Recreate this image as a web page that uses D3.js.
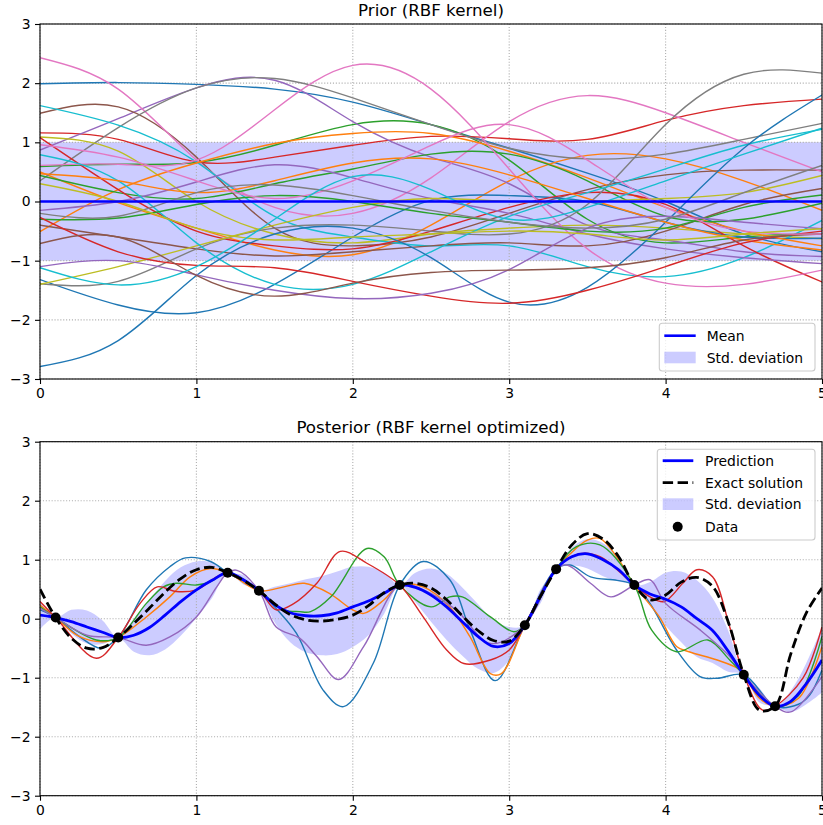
<!DOCTYPE html>
<html><head><meta charset="utf-8">
<script src="https://cdn.jsdelivr.net/npm/d3@7"></script>
<style>
body{margin:0;background:#fff}
svg{display:block}
text{font-family:"DejaVu Sans",sans-serif;fill:#000}
</style>
</head><body>
<svg id="c" width="823" height="825"></svg>
<script>
// ---------- ticks ----------
const xTicks = [0, 1, 2, 3, 4, 5];
const yTicks = [-3, -2, -1, 0, 1, 2, 3];
const titles = ["Prior (RBF kernel)", "Posterior (RBF kernel optimized)"];
const sampleColors = ["#1f77b4","#ff7f0e","#2ca02c","#d62728","#9467bd","#8c564b","#e377c2","#7f7f7f","#bcbd22","#17becf"];

// ---------- prior ----------
const priorX = [0, 0.5, 1, 1.5, 2, 2.5, 3, 3.5, 4, 4.5, 5];
const priorMean = [0, 0, 0, 0, 0, 0, 0, 0, 0, 0, 0];
const priorStd = [1, 1, 1, 1, 1, 1, 1, 1, 1, 1, 1];
// 30 prior samples, colour order follows the tab10 cycle
const priorSamples = [
  [1.99, 2.01, 1.98, 1.90, 1.68, 1.30, 0.90, 0.48, 0.00, -0.55, -0.85],
  [0.50, -0.02, -0.45, -0.82, -0.90, -0.40, 0.35, 0.78, 0.72, 0.35, -0.15],
  [0.59, 0.63, 0.66, 0.95, 1.30, 1.30, 0.70, -0.30, -0.70, -0.60, -0.55],
  [1.16, 1.05, 0.67, 0.75, 0.95, 1.10, 1.06, 1.05, 1.37, 1.62, 1.73],
  [0.87, 1.40, 1.92, 2.05, 1.35, 0.75, 0.30, -0.40, -0.65, -0.85, -0.93],
  [1.49, 1.60, 0.75, -0.45, -0.75, -0.60, -0.20, 0.20, 0.45, 0.53, 0.53],
  [2.43, 1.90, 0.70, -0.10, -0.20, 0.40, 1.35, 1.79, 1.50, 1.00, 0.50],
  [0.35, 1.25, 1.92, 2.08, 1.75, 1.30, 0.90, 0.72, 0.80, 1.05, 1.32],
  [1.09, 0.85, 0.00, -0.55, -0.70, -0.55, -0.45, -0.40, -0.45, -0.55, -0.63],
  [1.62, 1.29, 0.67, -0.25, -0.60, -0.75, -0.75, -1.10, -1.27, -0.95, -0.32],
  [-1.32, -1.75, -1.88, -1.40, -0.60, 0.02, 0.10, 0.00, -0.35, -0.60, -0.62],
  [-0.51, 0.20, 0.65, 0.98, 1.15, 1.15, 0.85, 0.40, -0.10, -0.50, -0.75],
  [0.44, 0.15, 0.05, 0.30, 0.55, 0.80, 0.80, 0.35, -0.25, -0.30, -0.03],
  [1.08, 0.20, -0.50, -0.75, -0.80, -0.50, -0.10, 0.15, -0.05, -0.75, -1.36],
  [-0.15, 0.00, 0.33, 0.62, 0.40, 0.05, -0.20, -0.55, -0.80, -0.95, -1.05],
  [-0.40, -0.60, -0.80, -0.92, -0.85, -0.75, -0.70, -0.75, -0.50, -0.05, 0.22],
  [0.61, 0.63, 0.70, 1.55, 2.30, 1.90, 0.55, -0.80, -1.38, -1.40, -1.16],
  [-1.39, -1.35, -0.80, -0.45, -0.40, -0.50, -0.55, -0.05, 1.30, 2.15, 2.17],
  [-1.40, -1.10, -0.75, -0.40, -0.10, 0.05, 0.00, 0.00, 0.05, 0.15, 0.44],
  [0.79, 0.35, -0.70, -1.40, -1.40, -0.85, -0.25, 0.15, 0.55, 0.95, 1.22],
  [-2.79, -2.35, -1.25, -0.55, -0.45, -0.95, -1.70, -1.45, -0.35, 0.90, 1.80],
  [0.47, 0.35, 0.15, 0.35, 0.65, 0.72, 0.45, 0.05, -0.35, -0.65, -0.82],
  [-0.30, -0.28, -0.05, 0.10, 0.00, -0.20, -0.35, -0.50, -0.45, -0.10, 0.11],
  [-0.27, -0.85, -1.08, -1.12, -1.35, -1.60, -1.72, -1.50, -1.10, -0.70, -0.50],
  [-1.10, -1.00, -1.24, -1.50, -1.64, -1.55, -1.15, -0.45, -0.25, -0.35, -0.46],
  [-0.71, -0.60, -1.25, -1.60, -1.38, -1.20, -1.16, -1.12, -0.95, -0.65, -0.55],
  [0.96, 0.75, 0.35, 0.05, 0.35, 0.95, 1.30, 0.70, -0.10, -0.50, -0.55],
  [-0.20, -0.25, 0.15, 0.28, 0.10, -0.15, -0.35, -0.45, -0.30, 0.15, 0.61],
  [0.30, 0.00, -0.45, -0.65, -0.60, -0.55, -0.50, -0.55, -0.65, -0.55, -0.46],
  [-1.12, -1.41, -1.10, -0.30, 0.42, 0.20, -0.30, -0.10, 0.35, 0.80, 1.24]
];

// ---------- posterior ----------
const postX = [0,0.1,0.2,0.3,0.4,0.5,0.6,0.7,0.8,0.9,1.0,1.1,1.2,1.3,1.4,1.5,1.6,1.7,1.8,1.9,2.0,
  2.1,2.2,2.3,2.4,2.5,2.6,2.7,2.8,2.9,3.0,3.1,3.2,3.3,3.4,3.5,3.6,3.7,3.8,3.9,4.0,
  4.1,4.2,4.3,4.4,4.5,4.6,4.7,4.8,4.9,5.0];
const predY = [0.06,0.02,-0.05,-0.14,-0.23,-0.32,-0.28,-0.15,0.06,0.29,0.49,
  0.65,0.78,0.66,0.475,0.24,0.10,0.05,0.05,0.10,0.20,
  0.30,0.43,0.57,0.53,0.40,0.20,-0.05,-0.30,-0.47,-0.42,
  -0.11,0.38,0.84,1.05,1.10,1.00,0.83,0.57,0.42,0.33,
  0.20,0.00,-0.20,-0.55,-0.95,-1.30,-1.485,-1.40,-1.10,-0.70];
const predStd = [0.24,0,0.20,0.28,0.20,0,0.28,0.47,0.58,0.58,0.48,
  0.30,0,0.08,0,0.30,0.50,0.62,0.67,0.70,0.68,
  0.58,0.35,0,0.25,0.45,0.56,0.58,0.55,0.45,0.28,
  0,0.12,0,0.15,0.25,0.28,0.20,0,0.20,0.45,
  0.60,0.65,0.55,0.35,0,0.12,0,0.18,0.35,0.55];
const exactY = [0.50,0.02,-0.33,-0.50,-0.49,-0.32,-0.08,0.18,0.45,0.68,0.83,
  0.87,0.78,0.65,0.475,0.25,0.07,-0.02,-0.04,-0.01,0.06,
  0.22,0.44,0.57,0.60,0.52,0.32,0.05,-0.20,-0.37,-0.38,
  -0.11,0.38,0.84,1.25,1.44,1.35,1.05,0.57,0.32,0.40,
  0.62,0.70,0.55,-0.05,-0.95,-1.55,-1.485,-0.60,0.10,0.52];
const dataX = [0.1, 0.5, 1.2, 1.4, 2.3, 3.1, 3.3, 3.8, 4.5, 4.7];
const dataY = [0.02, -0.32, 0.78, 0.475, 0.57, -0.11, 0.84, 0.57, -0.95, -1.485];

const postSamples = [
  [[0,0.15],[0.1,0.02],[0.25,-0.3],[0.39,-0.5],[0.5,-0.32],[0.68,0.49],[0.83,0.88],[0.93,1.03],[1.09,0.97],[1.2,0.78],[1.4,0.475],[1.5,0.2],[1.64,-0.25],[1.81,-1.21],[1.94,-1.49],[2.13,-0.76],[2.3,0.57],[2.45,0.97],[2.62,0.66],[2.75,-0.19],[2.91,-1.05],[3.1,-0.11],[3.3,0.84],[3.39,0.91],[3.52,0.71],[3.69,0.65],[3.8,0.57],[3.9,0.26],[4.07,-0.53],[4.22,-0.98],[4.33,-1.01],[4.5,-0.95],[4.7,-1.485],[4.85,-1.45],[4.92,-1.3],[5.0,-0.87]],
  [[0,0.23],[0.1,0.02],[0.25,-0.3],[0.4,-0.39],[0.5,-0.32],[0.68,0.03],[0.83,0.37],[0.96,0.71],[1.09,0.85],[1.2,0.78],[1.4,0.475],[1.56,0.54],[1.69,0.6],[1.85,0.43],[2.0,0.15],[2.07,0.09],[2.2,0.32],[2.3,0.57],[2.45,0.54],[2.62,0.2],[2.75,-0.31],[2.88,-0.93],[2.95,-0.93],[3.1,-0.11],[3.3,0.84],[3.39,1.1],[3.5,1.33],[3.58,1.36],[3.7,1.0],[3.8,0.57],[3.96,0.03],[4.07,-0.47],[4.15,-0.56],[4.33,-0.7],[4.46,-0.84],[4.5,-0.95],[4.6,-1.35],[4.7,-1.485],[4.85,-1.35],[5.0,-0.47]],
  [[0,0.2],[0.1,0.02],[0.36,-0.36],[0.5,-0.32],[0.68,0.26],[0.79,0.54],[0.87,0.6],[1.0,0.57],[1.09,0.63],[1.2,0.78],[1.4,0.475],[1.56,0.15],[1.66,0.12],[1.73,0.12],[1.86,0.37],[2.09,1.19],[2.2,1.05],[2.3,0.57],[2.5,0.2],[2.62,0.37],[2.7,0.37],[2.88,0.03],[3.03,-0.22],[3.1,-0.11],[3.3,0.84],[3.43,1.22],[3.58,1.25],[3.8,0.57],[3.91,-0.19],[4.07,-0.56],[4.27,-0.36],[4.41,-0.7],[4.5,-0.95],[4.7,-1.485],[4.85,-1.3],[5.0,-0.3]],
  [[0,0.29],[0.1,0.02],[0.36,-0.67],[0.5,-0.32],[0.64,0.26],[0.75,0.54],[0.87,0.46],[1.0,0.49],[1.13,0.71],[1.2,0.78],[1.4,0.475],[1.51,0.15],[1.62,0.25],[1.77,0.6],[1.92,1.14],[2.09,0.94],[2.3,0.57],[2.45,0.03],[2.6,-0.53],[2.71,-0.76],[2.88,-0.7],[3.0,-0.53],[3.1,-0.11],[3.3,0.84],[3.45,1.1],[3.58,1.05],[3.8,0.57],[3.9,0.37],[3.99,0.29],[4.11,0.6],[4.2,0.83],[4.3,0.71],[4.41,-0.14],[4.5,-0.95],[4.62,-1.55],[4.7,-1.485],[4.88,-1.0],[5.0,-0.14]],
  [[0,0.18],[0.1,0.02],[0.3,-0.28],[0.5,-0.32],[0.68,-0.45],[0.83,-0.31],[1.0,0.03],[1.13,0.54],[1.2,0.78],[1.26,0.82],[1.4,0.475],[1.51,-0.14],[1.66,-0.33],[1.77,-0.64],[1.91,-1.03],[2.07,-0.47],[2.3,0.57],[2.45,0.49],[2.66,0.15],[2.88,-0.42],[3.1,-0.11],[3.3,0.84],[3.37,0.91],[3.52,0.6],[3.65,0.37],[3.8,0.57],[3.9,0.66],[4.0,0.26],[4.22,-0.19],[4.41,-0.64],[4.5,-0.95],[4.7,-1.485],[4.8,-1.58],[5.0,-0.98]]
];

// ---------- drawing ----------
const svg = d3.select("#c");
const FS = 13.9;
const x = d3.scaleLinear().domain([0, 5]).range([40, 822]);

function panel(id, yTop, yBot, title) {
  const y = d3.scaleLinear().domain([-3, 3]).range([yBot, yTop]);
  const g = svg.append("g");
  g.append("clipPath").attr("id", id).append("rect")
    .attr("x", x(0)).attr("y", yTop).attr("width", x(5) - x(0)).attr("height", yBot - yTop);
  const layers = {
    band: g.append("g").attr("clip-path", `url(#${id})`),
    grid: g.append("g"),
    lines: g.append("g").attr("clip-path", `url(#${id})`),
    top: g.append("g"),
    axes: g.append("g"),
    legend: g.append("g")
  };
  layers.grid.selectAll("line.gx").data(xTicks).join("line").attr("class", "gx")
    .attr("x1", d => x(d)).attr("x2", d => x(d)).attr("y1", yTop).attr("y2", yBot);
  layers.grid.selectAll("line.gy").data(yTicks).join("line").attr("class", "gy")
    .attr("x1", x(0)).attr("x2", x(5)).attr("y1", d => y(d)).attr("y2", d => y(d));
  layers.grid.selectAll("line").attr("stroke", "#b0b0b0").attr("stroke-width", 1.1)
    .attr("stroke-dasharray", "1.1,1.8");
  const ax = layers.axes.append("g").attr("transform", `translate(0,${yBot})`)
    .call(d3.axisBottom(x).tickValues(xTicks).tickFormat(d3.format("d")).tickSize(5).tickPadding(4.5));
  const ay = layers.axes.append("g").attr("transform", `translate(${x(0)},0)`)
    .call(d3.axisLeft(y).tickValues(yTicks).tickFormat(d3.format("d")).tickSize(5).tickPadding(4.5));
  [ax, ay].forEach(a => {
    a.select(".domain").remove();
    a.attr("font-family", "DejaVu Sans").attr("font-size", FS);
    a.selectAll(".tick line").attr("stroke", "#000").attr("stroke-width", 1.1);
  });
  layers.axes.append("rect").attr("x", x(0)).attr("y", yTop).attr("width", x(5) - x(0))
    .attr("height", yBot - yTop).attr("fill", "none").attr("stroke", "#000").attr("stroke-width", 1.1);
  layers.axes.append("text").attr("x", (x(0) + x(5)) / 2).attr("y", yTop - 8.5)
    .attr("text-anchor", "middle").attr("font-size", 16.7).text(title);
  return { y, layers };
}

function legendBox(g, bx, by, bw, bh) {
  g.append("rect").attr("x", bx).attr("y", by).attr("width", bw).attr("height", bh)
    .attr("rx", 3).attr("fill", "#fff").attr("fill-opacity", 0.8)
    .attr("stroke", "#cccccc").attr("stroke-width", 1.1);
}
function legendText(g, tx, ty, s) {
  g.append("text").attr("x", tx).attr("y", ty).attr("dy", "0.36em").attr("font-size", FS).text(s);
}

// ---- top: prior ----
{
  const { y, layers } = panel("clipTop", 24, 379, titles[0]);
  const idx = d3.range(priorX.length);
  layers.band.append("path").datum(idx)
    .attr("d", d3.area().x(i => x(priorX[i])).y0(i => y(priorMean[i] - priorStd[i])).y1(i => y(priorMean[i] + priorStd[i])))
    .attr("fill", "blue").attr("fill-opacity", 0.2);
  const line = d3.line().x((d, i) => x(priorX[i])).y(d => y(d)).curve(d3.curveNatural);
  layers.lines.selectAll("path.s").data(priorSamples).join("path").attr("class", "s")
    .attr("d", line).attr("fill", "none").attr("stroke", (d, i) => sampleColors[i % 10])
    .attr("stroke-width", 1.4).attr("stroke-linejoin", "round");
  layers.lines.append("path").datum(priorMean).attr("d", line)
    .attr("fill", "none").attr("stroke", "#0000ff").attr("stroke-width", 2.6);
  const lg = layers.legend;
  legendBox(lg, 659.3, 323.3, 155.7, 47.7);
  lg.append("line").attr("x1", 664.3).attr("x2", 695.7).attr("y1", 335.7).attr("y2", 335.7)
    .attr("stroke", "#0000ff").attr("stroke-width", 2.6);
  legendText(lg, 706.7, 335.7, "Mean");
  lg.append("rect").attr("x", 664.3).attr("y", 351.7).attr("width", 31.4).attr("height", 11.6)
    .attr("fill", "blue").attr("fill-opacity", 0.2);
  legendText(lg, 706.7, 357.5, "Std. deviation");
}

// ---- bottom: posterior ----
{
  const { y, layers } = panel("clipBot", 441.7, 795.7, titles[1]);
  const idx = d3.range(postX.length);
  const cr = d3.curveCatmullRom.alpha(0.5);
  layers.band.append("path").datum(idx)
    .attr("d", d3.area().x(i => x(postX[i])).y0(i => y(predY[i] - predStd[i])).y1(i => y(predY[i] + predStd[i])).curve(cr))
    .attr("fill", "blue").attr("fill-opacity", 0.2);
  const pl = d3.line().x(d => x(d[0])).y(d => y(d[1])).curve(cr);
  layers.lines.selectAll("path.s").data(postSamples).join("path").attr("class", "s")
    .attr("d", pl).attr("fill", "none").attr("stroke", (d, i) => sampleColors[i % 10])
    .attr("stroke-width", 1.4).attr("stroke-linejoin", "round");
  const gl = d3.line().x(i => x(postX[i])).curve(cr);
  layers.lines.append("path").datum(idx).attr("d", gl.y(i => y(predY[i])))
    .attr("fill", "none").attr("stroke", "#0000ff").attr("stroke-width", 2.8);
  layers.lines.append("path").datum(idx).attr("d", gl.y(i => y(exactY[i])))
    .attr("fill", "none").attr("stroke", "#000").attr("stroke-width", 2.8).attr("stroke-dasharray", "10.4,4.5");
  layers.top.selectAll("circle").data(dataX).join("circle")
    .attr("cx", d => x(d)).attr("cy", (d, i) => y(dataY[i])).attr("r", 5).attr("fill", "#000");
  const lg = layers.legend;
  legendBox(lg, 657.3, 449.3, 157.7, 90.7);
  lg.append("line").attr("x1", 662.7).attr("x2", 693.3).attr("y1", 460.7).attr("y2", 460.7)
    .attr("stroke", "#0000ff").attr("stroke-width", 2.8);
  legendText(lg, 705, 460.7, "Prediction");
  lg.append("line").attr("x1", 662.7).attr("x2", 693.3).attr("y1", 482.7).attr("y2", 482.7)
    .attr("stroke", "#000").attr("stroke-width", 2.8).attr("stroke-dasharray", "10.4,4.5");
  legendText(lg, 705, 482.7, "Exact solution");
  lg.append("rect").attr("x", 662.7).attr("y", 498.3).attr("width", 30.6).attr("height", 11.7)
    .attr("fill", "blue").attr("fill-opacity", 0.2);
  legendText(lg, 705, 504.2, "Std. deviation");
  lg.append("circle").attr("cx", 677.7).attr("cy", 526.7).attr("r", 5).attr("fill", "#000");
  legendText(lg, 705, 526.7, "Data");
}
</script>
</body></html>
